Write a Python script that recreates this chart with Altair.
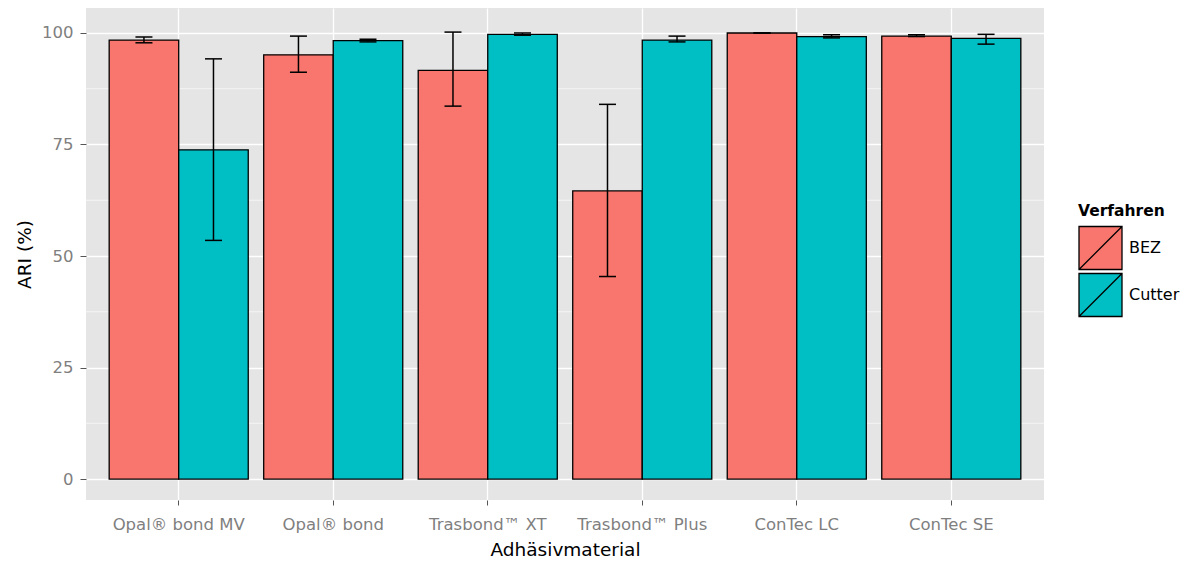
import altair as alt
import pandas as pd

materials = ["Opal® bond MV", "Opal® bond", "Trasbond™ XT", "Trasbond™ Plus", "ConTec LC", "ConTec SE"]
groups = ["BEZ", "Cutter"]

bez = [98.4, 95.1, 91.6, 64.6, 100.0, 99.3]
bez_lo = [97.8, 91.2, 83.6, 45.4, 100.0, 99.2]
bez_hi = [99.1, 99.3, 100.2, 84.0, 100.0, 99.6]

cutter = [73.8, 98.3, 99.7, 98.4, 99.2, 98.8]
cutter_lo = [53.5, 98.0, 99.5, 98.0, 98.9, 97.5]
cutter_hi = [94.2, 98.6, 100.0, 99.3, 99.6, 99.7]

minor_breaks = [12.5, 37.5, 62.5, 87.5]
major_breaks = [0, 25, 50, 75, 100]

rows = []
for i, m in enumerate(materials):
    rows.append({"material": m, "Verfahren": "BEZ", "value": bez[i], "lo": bez_lo[i], "hi": bez_hi[i], "zero": 0})
    rows.append({"material": m, "Verfahren": "Cutter", "value": cutter[i], "lo": cutter_lo[i], "hi": cutter_hi[i], "zero": 0})
df = pd.DataFrame(rows)
minor_df = pd.DataFrame({"v": minor_breaks})

FONT = "DejaVu Sans"
yscale = alt.Scale(domain=[-4.7, 105.6], nice=False, zero=False)

y_axis = alt.Axis(
    title="ARI (%)",
    values=major_breaks,
    grid=True,
    gridColor="white",
    gridWidth=1.3,
    domain=False,
    tickColor="#555555",
    tickSize=6,
    labelColor="#7F7F7F",
    labelFontSize=16.5,
    labelPadding=7,
    titleFontSize=18.5,
    titleFontWeight="normal",
    titleColor="black",
    titlePadding=7,
)

x_axis = alt.Axis(
    title="Adhäsivmaterial",
    labelAngle=0,
    grid=True,
    gridColor="white",
    gridWidth=1.3,
    bandPosition=0.5,
    domain=False,
    tickColor="#555555",
    tickSize=5,
    labelColor="#7F7F7F",
    labelFontSize=16.5,
    labelPadding=11,
    titleFontSize=18.5,
    titleFontWeight="normal",
    titleColor="black",
    titlePadding=8,
)

xenc = alt.X(
    "material:N",
    sort=materials,
    scale=alt.Scale(paddingInner=0.1, paddingOuter=0.15),
    axis=x_axis,
)
xoff = alt.XOffset("Verfahren:N", sort=groups, scale=alt.Scale(paddingInner=0, paddingOuter=0))

minor = alt.Chart(minor_df).mark_rule(color="white", strokeWidth=0.6).encode(
    y=alt.Y("v:Q", scale=yscale, axis=y_axis, title="ARI (%)")
)

bars = alt.Chart(df).mark_bar(stroke="black", strokeWidth=1.3, opacity=1).encode(
    x=xenc,
    xOffset=xoff,
    y=alt.Y("value:Q", scale=yscale, axis=y_axis, title="ARI (%)"),
    y2=alt.Y2("zero:Q"),
    color=alt.Color(
        "Verfahren:N",
        sort=groups,
        scale=alt.Scale(domain=groups, range=["#F8766D", "#00BFC4"]),
        legend=alt.Legend(
            title="Verfahren",
            orient="none",
            legendX=992,
            legendY=196,
            symbolType="M-1,-1H1V1H-1Z M-1,1L1,-1",
            symbolSize=1849,
            symbolStrokeColor="black",
            symbolStrokeWidth=1.3,
            symbolOpacity=1,
            rowPadding=-14,
            labelFontSize=16,
            labelColor="black",
            labelOffset=6,
            titleFontSize=15.5,
            titleFontWeight="bold",
            titleColor="black",
            titlePadding=6,
        ),
    ),
)

err_rule = alt.Chart(df).mark_rule(color="black", strokeWidth=1.5).encode(
    x=alt.X("material:N", sort=materials, axis=x_axis),
    xOffset=alt.XOffset("Verfahren:N", sort=groups),
    y=alt.Y("lo:Q", scale=yscale, axis=y_axis, title="ARI (%)"),
    y2=alt.Y2("hi:Q"),
)
cap_lo = alt.Chart(df).mark_tick(color="black", thickness=1.5, size=17, orient="horizontal", opacity=1).encode(
    x=alt.X("material:N", sort=materials, axis=x_axis),
    xOffset=alt.XOffset("Verfahren:N", sort=groups),
    y=alt.Y("lo:Q", scale=yscale, axis=y_axis, title="ARI (%)"),
)
cap_hi = alt.Chart(df).mark_tick(color="black", thickness=1.5, size=17, orient="horizontal", opacity=1).encode(
    x=alt.X("material:N", sort=materials, axis=x_axis),
    xOffset=alt.XOffset("Verfahren:N", sort=groups),
    y=alt.Y("hi:Q", scale=yscale, axis=y_axis, title="ARI (%)"),
)

chart = (
    alt.layer(minor, bars, err_rule, cap_lo, cap_hi)
    .properties(
        width=958,
        height=492,
        padding={"left": 15, "top": 8, "right": 5, "bottom": 0},
    )
    .configure(font=FONT)
    .configure_view(fill="#E5E5E5", strokeWidth=0)
)

chart.save("out.html", embed_options={"renderer": "svg", "actions": False})
